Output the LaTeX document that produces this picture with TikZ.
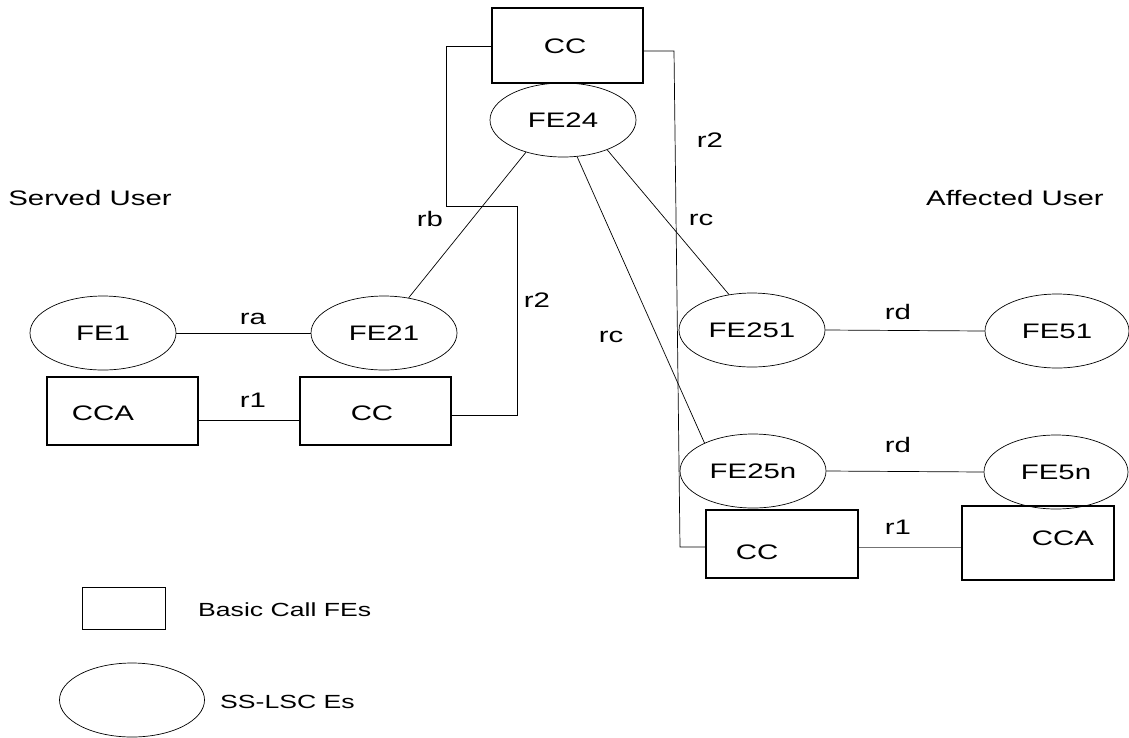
\documentclass[tikz,border=0pt]{standalone}
\usepackage{fontspec}
\setmainfont{Liberation Sans}[FakeStretch=1.4]
\usetikzlibrary{shapes.geometric}
\begin{document}
\begin{tikzpicture}[x=1pt,y=-1pt,
  fe/.style={draw,ellipse,line width=0.7pt,inner sep=0pt,minimum width=#1,minimum height=74pt,font=\fontsize{21}{24}\selectfont},
  fe/.default=146pt,
  box/.style={draw,rectangle,line width=1.1pt,inner sep=0pt},
  wire/.style={line width=0.7pt},
  lab/.style={font=\fontsize{21}{24}\selectfont,inner sep=0pt},
  leg/.style={font=\fontsize{19}{22}\selectfont,inner sep=0pt,anchor=west}]
\useasboundingbox (0,0) rectangle (1129,737);
% boxes
\node[box,minimum width=151pt,minimum height=75pt] (cctop) at (567.5,45.5) {};
\node[lab] (cctopt) at (565,46) {CC};
\node[box,minimum width=151pt,minimum height=68pt] (cca1) at (122.5,411) {};
\node[lab] (cca1t) at (103,413) {CCA};
\node[box,minimum width=151pt,minimum height=68pt] (cc1) at (375.5,411) {};
\node[lab] (cc1t) at (372,413) {CC};
\node[box,minimum width=152pt,minimum height=68pt] (cc2) at (782,544) {};
\node[lab] (cc2t) at (757,552) {CC};
\node[box,minimum width=152pt,minimum height=74pt] (cca2) at (1038,543) {};
\node[lab] (cca2t) at (1063,538) {CCA};
% ellipses
\node[fe] (fe24) at (563,120) {FE24};
\node[fe] (fe1) at (103,333) {FE1};
\node[fe] (fe21) at (384,333) {FE21};
\node[fe] (fe251) at (752,330) {FE251};
\node[fe=144pt] (fe51) at (1057,331) {FE51};
\node[fe] (fe25n) at (753,471) {FE25n};
\node[fe=144pt] (fe5n) at (1056,472) {FE5n};
% coordinates for wires
\coordinate (wa) at (517,415);
\coordinate (wb) at (517,206);
\coordinate (wc) at (446,206);
\coordinate (wd) at (446,46);
\coordinate (we) at (674,51);
\coordinate (wf) at (680,547);
% connectors
\draw[wire] (fe1.east) -- (fe21.west);
\draw[wire] ([yshift=-9pt]cca1.east) -- ([yshift=-9pt]cc1.west);
\draw[wire] (cc1.east |- wa) -- (wa) -- (wb) -- (wc) -- (wd) -- (cctop.west |- wd);
\draw[wire] (cctop.east |- we) -- (we) -- (wf) -- (cc2.west |- wf);
\draw[wire,draw=black!55] (cc2.east |- wf) -- (cca2.west |- wf);
\draw[wire] (fe21.55) -- (fe24.-139);
\draw[wire] (fe24.-34) -- (fe251.123);
\draw[wire] (fe24.-69) -- (fe25n.150);
\draw[wire] (fe251.east) -- (fe51.west);
\draw[wire] (fe25n.east) -- (fe5n.west);
% labels
\node[lab] (lra) at (253,319) {ra};
\node[lab] (lr1) at (253,400) {r1};
\node[lab] (lr2a) at (537,300) {r2};
\node[lab] (lrb) at (430,219) {rb};
\node[lab] (lrc1) at (701,220) {rc};
\node[lab] (lrc2) at (611,337) {rc};
\node[lab] (lr2b) at (710,140) {r2};
\node[lab] (lrd1) at (898,312) {rd};
\node[lab] (lrd2) at (898,445) {rd};
\node[lab] (lr1b) at (898,527) {r1};
\node[lab] (served) at (90,198) {Served User};
\node[lab] (affected) at (1015,198) {Affected User};
% legend
\node[draw,rectangle,line width=0.7pt,minimum width=83pt,minimum height=42pt] (legbox) at (123.5,608) {};
\node[leg] (legboxt) at (198,610) {Basic Call FEs};
\node[draw,ellipse,line width=0.7pt,minimum width=145pt,minimum height=74pt] (legell) at (132,700) {};
\node[leg] (legellt) at (220,702) {SS-LSC Es};
\end{tikzpicture}
\end{document}
